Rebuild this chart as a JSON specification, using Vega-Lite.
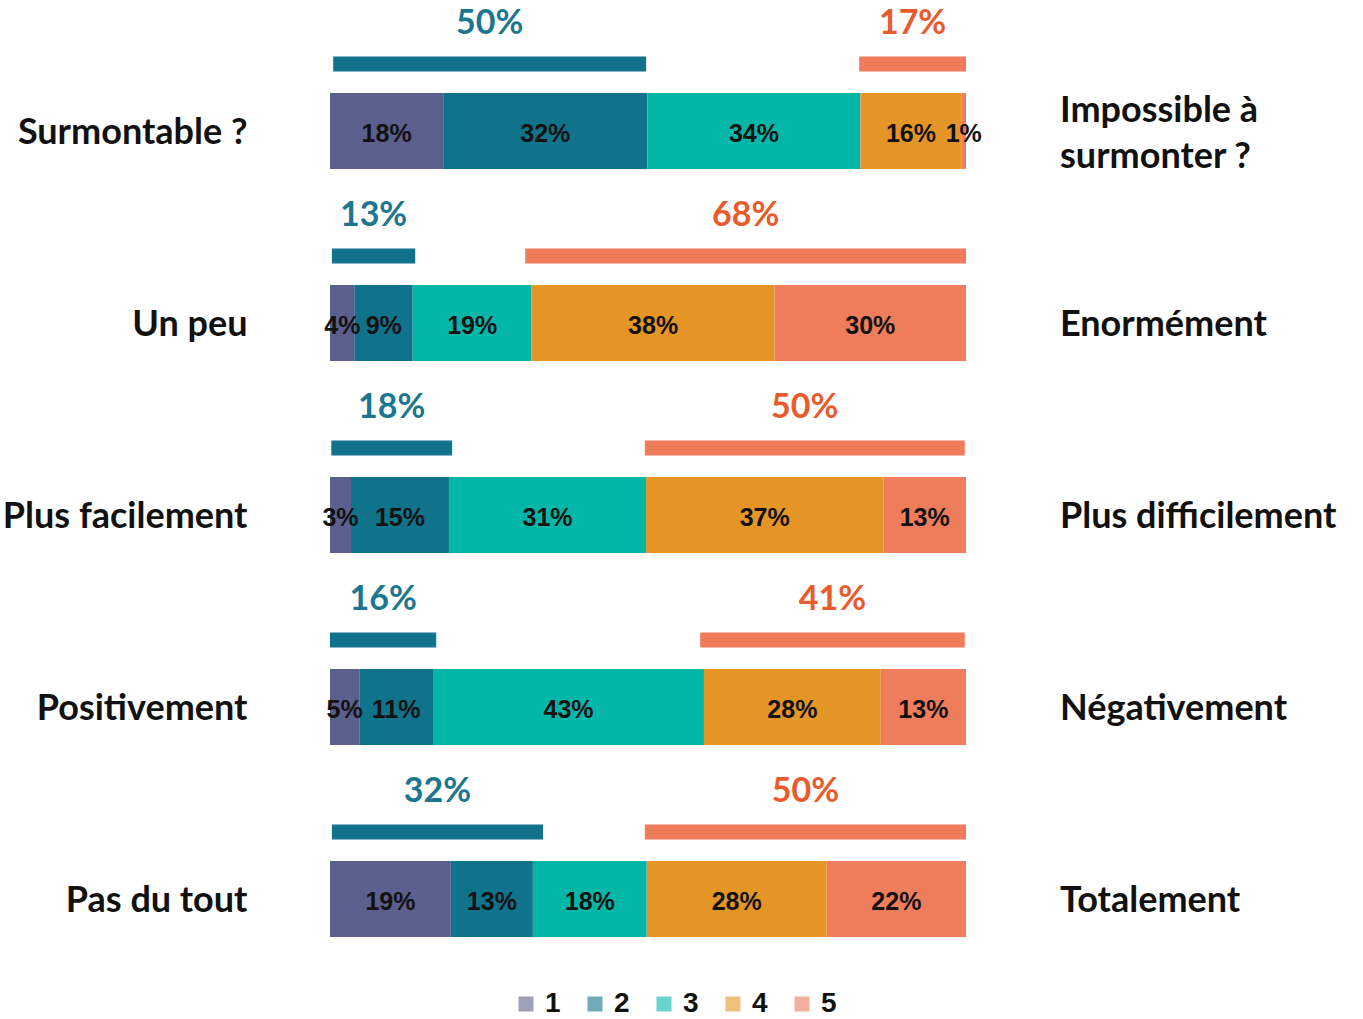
{
  "$schema": "https://vega.github.io/schema/vega-lite/v6.json",
  "width": 636,
  "height": 960,
  "autosize": {"type": "none"},
  "padding": {"left": 330, "top": 35, "right": 397, "bottom": 24},
  "background": "white",
  "config": {
    "view": {"stroke": null},
    "legend": {"padding": 0}
  },
  "datasets": {
    "seg": [
      {"q": "Surmontable ?", "cat": "1", "value": 17.8, "label": "18%"},
      {"q": "Surmontable ?", "cat": "2", "value": 32.1, "label": "32%"},
      {"q": "Surmontable ?", "cat": "3", "value": 33.5, "label": "34%"},
      {"q": "Surmontable ?", "cat": "4", "value": 15.9, "label": "16%"},
      {"q": "Surmontable ?", "cat": "5", "value": 0.7, "label": "1%"},
      {"q": "Un peu", "cat": "1", "value": 3.9, "label": "4%"},
      {"q": "Un peu", "cat": "2", "value": 9.1, "label": "9%"},
      {"q": "Un peu", "cat": "3", "value": 18.7, "label": "19%"},
      {"q": "Un peu", "cat": "4", "value": 38.2, "label": "38%"},
      {"q": "Un peu", "cat": "5", "value": 30.1, "label": "30%"},
      {"q": "Plus facilement", "cat": "1", "value": 3.3, "label": "3%"},
      {"q": "Plus facilement", "cat": "2", "value": 15.4, "label": "15%"},
      {"q": "Plus facilement", "cat": "3", "value": 31.0, "label": "31%"},
      {"q": "Plus facilement", "cat": "4", "value": 37.3, "label": "37%"},
      {"q": "Plus facilement", "cat": "5", "value": 13.0, "label": "13%"},
      {"q": "Positivement", "cat": "1", "value": 4.6, "label": "5%"},
      {"q": "Positivement", "cat": "2", "value": 11.6, "label": "11%"},
      {"q": "Positivement", "cat": "3", "value": 42.6, "label": "43%"},
      {"q": "Positivement", "cat": "4", "value": 27.8, "label": "28%"},
      {"q": "Positivement", "cat": "5", "value": 13.4, "label": "13%"},
      {"q": "Pas du tout", "cat": "1", "value": 19.0, "label": "19%"},
      {"q": "Pas du tout", "cat": "2", "value": 12.9, "label": "13%"},
      {"q": "Pas du tout", "cat": "3", "value": 17.9, "label": "18%"},
      {"q": "Pas du tout", "cat": "4", "value": 28.3, "label": "28%"},
      {"q": "Pas du tout", "cat": "5", "value": 21.9, "label": "22%"}
    ],
    "summary": [
      {"q": "Surmontable ?", "side": "low", "start": 0.5, "end": 49.7, "label": "50%"},
      {"q": "Surmontable ?", "side": "high", "start": 83.2, "end": 100, "label": "17%"},
      {"q": "Un peu", "side": "low", "start": 0.3, "end": 13.4, "label": "13%"},
      {"q": "Un peu", "side": "high", "start": 30.7, "end": 100, "label": "68%"},
      {"q": "Plus facilement", "side": "low", "start": 0.2, "end": 19.2, "label": "18%"},
      {"q": "Plus facilement", "side": "high", "start": 49.5, "end": 99.8, "label": "50%"},
      {"q": "Positivement", "side": "low", "start": 0, "end": 16.7, "label": "16%"},
      {"q": "Positivement", "side": "high", "start": 58.2, "end": 99.8, "label": "41%"},
      {"q": "Pas du tout", "side": "low", "start": 0.3, "end": 33.5, "label": "32%"},
      {"q": "Pas du tout", "side": "high", "start": 49.5, "end": 100, "label": "50%"}
    ],
    "right": [
      {"q": "Surmontable ?", "right": "Impossible à\nsurmonter ?", "lines": 2},
      {"q": "Un peu", "right": "Enormément", "lines": 1},
      {"q": "Plus facilement", "right": "Plus difficilement", "lines": 1},
      {"q": "Positivement", "right": "Négativement", "lines": 1},
      {"q": "Pas du tout", "right": "Totalement", "lines": 1}
    ]
  },
  "resolve": {"scale": {"color": "independent"}},
  "layer": [
    {
      "data": {"name": "seg"},
      "mark": {"type": "bar", "height": 76},
      "encoding": {
        "y": {
          "field": "q", "type": "nominal",
          "sort": ["Surmontable ?", "Un peu", "Plus facilement", "Positivement", "Pas du tout"],
          "scale": {"paddingInner": 0, "paddingOuter": 0},
          "axis": {
            "title": null, "ticks": false, "domain": false,
            "labelFont": "Lato", "labelFontWeight": "bold", "labelFontSize": 36,
            "labelColor": "#111111", "labelPadding": 83, "labelLimit": 0,
            "labelOffset": 2
          }
        },
        "x": {
          "field": "value", "type": "quantitative", "stack": "zero",
          "scale": {"domain": [0, 100], "nice": false}, "axis": null
        },
        "color": {
          "field": "cat", "type": "nominal",
          "scale": {"domain": ["1", "2", "3", "4", "5"], "range": ["#5B5F8E", "#0F738B", "#03B7A8", "#E59426", "#EF7C5B"]},
          "legend": {
            "title": null, "orient": "none", "direction": "horizontal",
            "legendX": 182, "legendY": 955,
            "symbolType": "square", "symbolSize": 225, "symbolOpacity": 0.6,
            "symbolStrokeWidth": 0,
            "labelFont": "Liberation Sans", "labelFontWeight": "bold", "labelFontSize": 28,
            "labelColor": "#111111", "labelOffset": 5, "columnPadding": 20
          }
        },
        "order": {"field": "cat", "type": "nominal"}
      }
    },
    {
      "data": {"name": "seg"},
      "transform": [
        {"stack": "value", "groupby": ["q"], "sort": [{"field": "cat", "order": "ascending"}], "as": ["v0", "v1"]},
        {"calculate": "(datum.v0 + datum.v1) / 2", "as": "mid"}
      ],
      "mark": {"type": "text", "font": "Liberation Sans", "fontWeight": "bold", "fontSize": 25, "color": "#111111", "baseline": "middle", "dy": 3},
      "encoding": {
        "y": {"field": "q", "type": "nominal", "sort": ["Surmontable ?", "Un peu", "Plus facilement", "Positivement", "Pas du tout"]},
        "x": {"field": "mid", "type": "quantitative"},
        "text": {"field": "label", "type": "nominal"}
      }
    },
    {
      "data": {"name": "summary"},
      "mark": {"type": "bar", "height": 15, "yOffset": -67},
      "encoding": {
        "y": {"field": "q", "type": "nominal", "sort": ["Surmontable ?", "Un peu", "Plus facilement", "Positivement", "Pas du tout"]},
        "x": {"field": "start", "type": "quantitative"},
        "x2": {"field": "end"},
        "color": {
          "field": "side", "type": "nominal",
          "scale": {"domain": ["low", "high"], "range": ["#10738B", "#EF7C5B"]},
          "legend": null
        }
      }
    },
    {
      "data": {"name": "summary"},
      "transform": [{"calculate": "(datum.start + datum.end) / 2", "as": "mid"}],
      "mark": {"type": "text", "font": "Lato", "fontWeight": "bold", "fontSize": 34, "baseline": "middle", "yOffset": -107},
      "encoding": {
        "y": {"field": "q", "type": "nominal", "sort": ["Surmontable ?", "Un peu", "Plus facilement", "Positivement", "Pas du tout"]},
        "x": {"field": "mid", "type": "quantitative"},
        "text": {"field": "label", "type": "nominal"},
        "color": {
          "field": "side", "type": "nominal",
          "scale": {"domain": ["low", "high"], "range": ["#1B7791", "#EA5B2C"]},
          "legend": null
        }
      }
    },
    {
      "data": {"name": "right"},
      "transform": [{"filter": "datum.lines == 1"}],
      "mark": {"type": "text", "font": "Lato", "fontWeight": "bold", "fontSize": 36, "color": "#111111", "align": "left", "baseline": "middle", "dx": 94, "dy": 2},
      "encoding": {
        "y": {"field": "q", "type": "nominal", "sort": ["Surmontable ?", "Un peu", "Plus facilement", "Positivement", "Pas du tout"]},
        "x": {"datum": 100, "type": "quantitative"},
        "text": {"field": "right", "type": "nominal"}
      }
    },
    {
      "data": {"name": "right"},
      "transform": [{"filter": "datum.lines == 2"}],
      "mark": {"type": "text", "font": "Lato", "fontWeight": "bold", "fontSize": 36, "color": "#111111", "align": "left", "baseline": "middle", "dx": 94, "dy": -20, "lineBreak": "\n", "lineHeight": 46},
      "encoding": {
        "y": {"field": "q", "type": "nominal", "sort": ["Surmontable ?", "Un peu", "Plus facilement", "Positivement", "Pas du tout"]},
        "x": {"datum": 100, "type": "quantitative"},
        "text": {"field": "right", "type": "nominal"}
      }
    }
  ]
}
